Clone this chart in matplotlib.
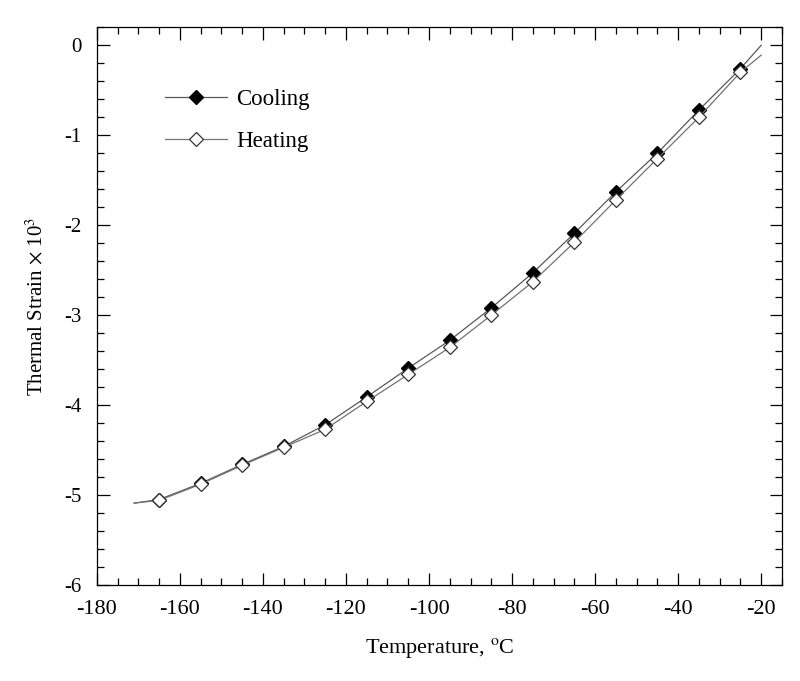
import matplotlib
matplotlib.use('Agg')
import matplotlib.pyplot as plt
from matplotlib.ticker import MultipleLocator

plt.rcParams['font.family'] = ['Liberation Serif', 'DejaVu Serif']
plt.rcParams['mathtext.fontset'] = 'stix'
plt.rcParams['axes.unicode_minus'] = False

# curve data (ends of the recorded lines + marker points)
cool_temp = [-171, -165, -155, -145, -135, -125, -115, -105, -95, -85, -75, -65, -55, -45, -35, -25, -20]
cool_strain = [-5.09, -5.05, -4.87, -4.66, -4.46, -4.22, -3.91, -3.59, -3.28, -2.92, -2.53, -2.09, -1.63, -1.20, -0.72, -0.26, 0.0]
heat_temp = [-171, -165, -155, -145, -135, -125, -115, -105, -95, -85, -75, -65, -55, -45, -35, -25, -20]
heat_strain = [-5.09, -5.06, -4.88, -4.67, -4.47, -4.27, -3.96, -3.66, -3.36, -3.00, -2.63, -2.19, -1.72, -1.26, -0.80, -0.30, -0.11]

fig = plt.figure(figsize=(8, 6.81), dpi=100)
ax = fig.add_axes([0.121, 0.141, 0.8565, 0.819])

marks = list(range(1, len(cool_temp) - 1))
ax.plot(cool_temp, cool_strain, color='0.35', lw=0.9, marker='D', markersize=7,
        markerfacecolor='black', markeredgecolor='black', markevery=marks, label='Cooling')
ax.plot(heat_temp, heat_strain, color='0.45', lw=0.9, marker='D', markersize=7,
        markerfacecolor='white', markeredgecolor='0.2', markeredgewidth=0.9, markevery=marks, label='Heating')

ax.set_xlim(-180, -15)
ax.set_ylim(-6, 0.2)
ax.xaxis.set_major_locator(MultipleLocator(20))
ax.xaxis.set_minor_locator(MultipleLocator(5))
ax.yaxis.set_major_locator(MultipleLocator(1))
ax.yaxis.set_minor_locator(MultipleLocator(0.2))
ax.tick_params(which='both', direction='in', top=True, right=True, width=0.9)
ax.tick_params(which='major', length=9)
ax.tick_params(which='minor', length=5)
ax.tick_params(axis='x', which='major', labelsize=16, pad=11)
ax.tick_params(axis='y', which='major', labelsize=15, pad=11)
for s in ax.spines.values():
    s.set_linewidth(0.9)

ax.set_xlabel('Temperature, $^{\\mathrm{o}}$C', fontsize=16, labelpad=12)
ax.set_ylabel('Thermal Strain $\\times$ 10$^3$', fontsize=15, labelpad=12)

ax.legend(loc='upper left', bbox_to_anchor=(0.07, 0.927), frameon=False, fontsize=16.5,
          handlelength=2.7, labelspacing=0.95, handletextpad=0.4)

plt.savefig('out.png', dpi=100)
